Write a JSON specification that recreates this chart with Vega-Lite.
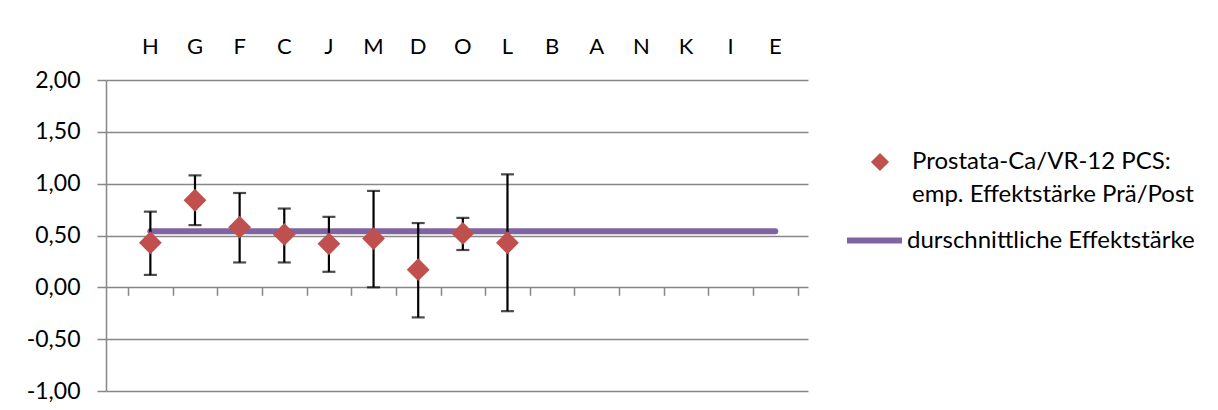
{
  "$schema": "https://vega.github.io/schema/vega-lite/v6.json",
  "autosize": {"type": "none"},
  "padding": {"left": 106, "top": 80, "right": 410, "bottom": 19},
  "width": 702,
  "height": 311,
  "background": "#ffffff",
  "config": {
    "font": "Lato",
    "view": {"stroke": null},
    "style": {"guide-label": {"lineHeight": 33}},
    "axisY": {
      "grid": true,
      "gridColor": "#878787",
      "gridWidth": 1.5,
      "domainColor": "#878787",
      "domainWidth": 1.5,
      "tickColor": "#878787",
      "tickWidth": 1.5,
      "tickSize": 9,
      "labelPadding": 17,
      "labelFont": "Lato",
      "labelFontSize": 23,
      "labelColor": "#000000",
      "values": [-1, -0.5, 0, 0.5, 1, 1.5, 2],
      "labelExpr": "replace(replace(format(datum.value, '.2f'), '.', ','), '−', '-')",
      "title": null
    },
    "legend": {
      "labelFont": "Lato",
      "labelFontSize": 24,
      "labelColor": "#000000",
      "labelLimit": 500,
      "padding": 0,
      "title": null
    }
  },
  "data": {
    "values": [
      {"cat": "H", "es": 0.43, "lo": 0.12, "hi": 0.73, "mean": 0.54},
      {"cat": "G", "es": 0.84, "lo": 0.60, "hi": 1.08, "mean": 0.54},
      {"cat": "F", "es": 0.58, "lo": 0.24, "hi": 0.91, "mean": 0.54},
      {"cat": "C", "es": 0.51, "lo": 0.24, "hi": 0.76, "mean": 0.54},
      {"cat": "J", "es": 0.42, "lo": 0.15, "hi": 0.68, "mean": 0.54},
      {"cat": "M", "es": 0.47, "lo": 0.00, "hi": 0.93, "mean": 0.54},
      {"cat": "D", "es": 0.17, "lo": -0.29, "hi": 0.62, "mean": 0.54},
      {"cat": "O", "es": 0.52, "lo": 0.36, "hi": 0.67, "mean": 0.54},
      {"cat": "L", "es": 0.43, "lo": -0.23, "hi": 1.09, "mean": 0.54},
      {"cat": "B", "es": null, "lo": null, "hi": null, "mean": 0.54},
      {"cat": "A", "es": null, "lo": null, "hi": null, "mean": 0.54},
      {"cat": "N", "es": null, "lo": null, "hi": null, "mean": 0.54},
      {"cat": "K", "es": null, "lo": null, "hi": null, "mean": 0.54},
      {"cat": "I", "es": null, "lo": null, "hi": null, "mean": 0.54},
      {"cat": "E", "es": null, "lo": null, "hi": null, "mean": 0.54}
    ]
  },
  "resolve": {"axis": {"x": "independent"}},
  "layer": [
    {
      "mark": {"type": "line", "strokeWidth": 6, "strokeCap": "round"},
      "encoding": {
        "x": {
          "field": "cat", "type": "nominal", "sort": null,
          "scale": {"type": "band", "paddingInner": 0, "paddingOuter": 0.363, "align": 0.68},
          "axis": {
            "orient": "top", "title": null, "ticks": false, "domain": false, "grid": false,
            "labelAngle": 0, "labelPadding": 22, "labelFont": "Lato", "labelFontSize": 22, "labelColor": "#000000"
          }
        },
        "y": {"field": "mean", "type": "quantitative", "scale": {"domain": [-1, 2], "nice": false, "zero": false}, "title": null},
        "color": {
          "datum": "durschnittliche Effektstärke",
          "type": "nominal",
          "scale": {"range": ["#8064A2"]},
          "legend": {
            "orient": "none", "legendX": 738, "legendY": 130,
            "symbolType": "stroke", "symbolSize": 3025, "symbolStrokeWidth": 6,
            "symbolStrokeColor": "#8064A2", "labelOffset": 2
          }
        }
      }
    },
    {
      "transform": [{"filter": "isValid(datum.es)"}],
      "mark": {"type": "rule", "color": "#000000", "strokeWidth": 2.2},
      "encoding": {
        "x": {
          "field": "cat", "type": "nominal", "sort": null,
          "axis": {
            "orient": "bottom", "offset": -103.67, "title": null, "labels": false, "domain": false, "grid": false,
            "ticks": true, "tickBand": "extent", "tickSize": 8, "tickColor": "#878787", "tickWidth": 1.5
          }
        },
        "y": {"field": "lo", "type": "quantitative", "title": null},
        "y2": {"field": "hi"}
      }
    },
    {
      "transform": [{"filter": "isValid(datum.es)"}],
      "mark": {"type": "tick", "color": "#000000", "size": 13, "thickness": 2.2},
      "encoding": {
        "x": {"field": "cat", "type": "nominal", "sort": null, "axis": null},
        "y": {"field": "lo", "type": "quantitative", "title": null}
      }
    },
    {
      "transform": [{"filter": "isValid(datum.es)"}],
      "mark": {"type": "tick", "color": "#000000", "size": 13, "thickness": 2.2},
      "encoding": {
        "x": {"field": "cat", "type": "nominal", "sort": null, "axis": null},
        "y": {"field": "hi", "type": "quantitative", "title": null}
      }
    },
    {
      "transform": [{"filter": "isValid(datum.es)"}],
      "mark": {"type": "point", "filled": true, "color": "#C0504D", "opacity": 1, "size": 520},
      "encoding": {
        "x": {"field": "cat", "type": "nominal", "sort": null, "axis": null},
        "y": {"field": "es", "type": "quantitative", "title": null},
        "shape": {
          "datum": "Prostata-Ca/VR-12 PCS: emp. Effektstärke Prä/Post",
          "type": "nominal",
          "scale": {"range": ["diamond"]},
          "legend": {
            "orient": "none", "legendX": 762, "legendY": 70,
            "symbolSize": 330, "symbolFillColor": "#C0504D", "symbolStrokeColor": "#C0504D", "symbolOpacity": 1,
            "labelOffset": 20,
            "labelExpr": "datum.label == 'Prostata-Ca/VR-12 PCS: emp. Effektstärke Prä/Post' ? ['Prostata-Ca/VR-12 PCS:', 'emp. Effektstärke Prä/Post'] : datum.label",
            "labelBaseline": "middle"
          }
        }
      }
    }
  ]
}
